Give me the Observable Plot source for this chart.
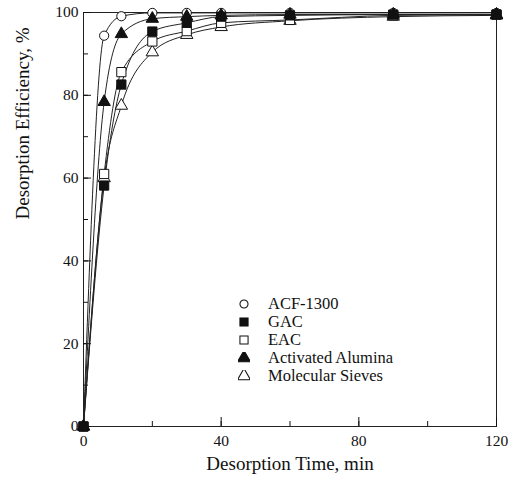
<!DOCTYPE html>
<html>
<head>
<meta charset="utf-8">
<script src="https://cdn.jsdelivr.net/npm/d3@7"></script>
<script src="https://cdn.jsdelivr.net/npm/@observablehq/plot@0.6"></script>
<style>
  body { margin: 0; background: #fff; }
  #wrap { position: relative; width: 510px; height: 495px; font-family: "Liberation Serif", "DejaVu Serif", serif; }
  #legend { position: absolute; left: 238px; top: 295px; font-size: 16.5px; color: #111; }
  #legend .row { display: flex; align-items: center; height: 18px; }
  #legend svg { width: 12px; height: 12px; margin-right: 18px; }
</style>
</head>
<body>
<div id="wrap"></div>
<script>
const times = [0, 6, 11, 20, 30, 40, 60, 90, 120];
const acf1300 = [0, 94.4, 99.1, 99.9, 99.9, 99.9, 99.9, 99.9, 99.9];
const gac = [0, 58.2, 82.6, 95.4, 97.5, 99, 99.3, 99.5, 99.5];
const eac = [0, 61, 85.6, 93, 95.5, 97.5, 98.2, 99.3, 99.5];
const alumina = [0, 78.4, 94.8, 98.5, 99, 99.3, 99.5, 99.5, 99.5];
const sieves = [0, 60, 77.5, 90.4, 94.6, 96.5, 98, 99, 99.3];

const seriesNames = ["ACF-1300", "GAC", "EAC", "Activated Alumina", "Molecular Sieves"];
const seriesValues = [acf1300, gac, eac, alumina, sieves];
const symbols = ["circle", "square", "square", "triangle", "triangle"];
const filled = [false, true, false, true, false];
const drawOrder = [0, 4, 2, 3, 1];

const xTicks = [0, 40, 80, 120];
const yTicks = [0, 20, 40, 60, 80, 100];

const rows = [];
seriesNames.forEach((name, i) => times.forEach((t, j) => rows.push({series: name, idx: i, t, v: seriesValues[i][j]})));

const marks = [
  Plot.frame({stroke: "#222", strokeWidth: 1}),
  Plot.axisY({ticks: d3.range(0, 101, 10), tickSize: -5, tickFormat: () => "", label: null}),
  Plot.axisY({ticks: yTicks, tickSize: -8, tickPadding: 13, label: null, fontSize: 15.5}),
  Plot.axisX({ticks: d3.range(0, 121, 20), tickSize: -5, tickFormat: () => "", label: null}),
  Plot.axisX({ticks: xTicks, tickSize: -9, tickPadding: 17, label: null, fontSize: 15.5}),
];
drawOrder.forEach(i => {
  const d = rows.filter(r => r.idx === i);
  marks.push(Plot.line(d, {x: "t", y: "v", curve: "monotone-x", stroke: "#222", strokeWidth: 1}));
});
drawOrder.forEach(i => {
  const d = rows.filter(r => r.idx === i);
  const sym = symbols[i];
  const r = sym === "circle" ? 4.6 : sym === "square" ? 5.2 : 4.6;
  marks.push(Plot.dot(d, {x: "t", y: "v", symbol: () => sym, r, fill: filled[i] ? "#111" : "#fff", stroke: "#111", strokeWidth: 1}));
});
marks.push(Plot.text(["Desorption Time, min"], {frameAnchor: "bottom", dy: 43, text: d => d, fontSize: 19}));
marks.push(Plot.text(["Desorption Efficiency, %"], {frameAnchor: "left", dx: -61, rotate: -90, text: d => d, fontSize: 19}));

const chart = Plot.plot({
  width: 510,
  height: 495,
  marginLeft: 83,
  marginRight: 14,
  marginTop: 12,
  marginBottom: 69,
  x: {domain: [0, 120]},
  y: {domain: [0, 100]},
  style: {fontFamily: "'Liberation Serif', serif", fontSize: "15px", color: "#111", background: "#fff", overflow: "visible"},
  marks
});
document.getElementById("wrap").appendChild(chart);

// legend
const legend = document.createElement("div");
legend.id = "legend";
seriesNames.forEach((name, i) => {
  const row = document.createElement("div");
  row.className = "row";
  const svg = d3.create("svg").attr("viewBox", "-7 -7 14 14");
  const sym = symbols[i] === "circle" ? d3.symbolCircle : symbols[i] === "square" ? d3.symbolSquare : d3.symbolTriangle;
  const size = symbols[i] === "circle" ? 70 : symbols[i] === "square" ? 90 : 100;
  svg.append("path").attr("d", d3.symbol(sym, size)()).attr("fill", filled[i] ? "#111" : "#fff").attr("stroke", "#111").attr("stroke-width", 1.2);
  row.appendChild(svg.node());
  const span = document.createElement("span");
  span.textContent = name;
  row.appendChild(span);
  legend.appendChild(row);
});
document.getElementById("wrap").appendChild(legend);
</script>
</body>
</html>
